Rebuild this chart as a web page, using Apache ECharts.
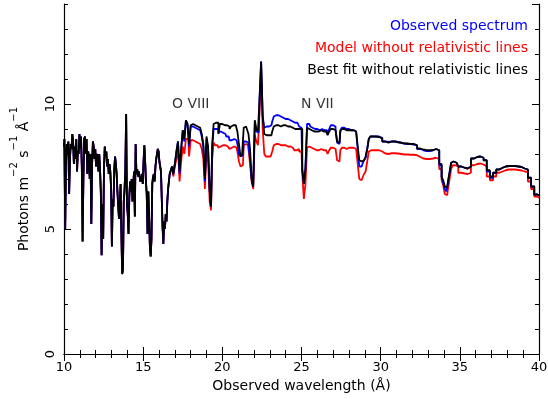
<!DOCTYPE html>
<html>
<head>
<meta charset="utf-8">
<script src="https://cdn.jsdelivr.net/npm/echarts@6/dist/echarts.min.js"></script>
<style>
  html, body { margin: 0; padding: 0; background: #fff; }
  #chart { width: 548px; height: 399px; }
</style>
</head>
<body>
<div id="chart"></div>
<script>
// 10 - 16.8 A : the three curves lie on top of each other
var waveLow = [
  10.00,10.05,10.10,10.15,10.20,10.25,10.30,10.35,10.40,10.45,10.50,10.55,10.60,10.65,10.70,10.75,10.80,10.85,10.90,10.95,
  11.00,11.05,11.10,11.15,11.20,11.25,11.30,11.35,11.40,11.45,11.50,11.55,11.60,11.65,11.70,11.75,11.80,11.85,11.90,11.95,
  12.00,12.05,12.10,12.15,12.20,12.25,12.30,12.35,12.40,12.45,12.50,12.55,12.60,12.65,12.70,12.75,12.80,12.85,12.90,12.95,
  13.00,13.05,13.10,13.15,13.20,13.25,13.30,13.35,13.40,13.45,13.50,13.55,13.60,13.65,13.70,13.75,13.80,13.85,13.90,13.95,
  14.00,14.05,14.10,14.15,14.20,14.25,14.30,14.35,14.40,14.45,14.50,14.55,14.60,14.65,14.70,14.75,14.80,14.85,14.90,14.95,
  15.00,15.05,15.10,15.15,15.20,15.25,15.30,15.35,15.40,15.45,15.50,15.55,15.60,15.65,15.70,15.75,15.80,15.85,15.90,15.95,
  16.00,16.05,16.10,16.15,16.20,16.25,16.30,16.35,16.40,16.45,16.50,16.55,16.60,16.65,16.70,16.75,16.80
];
var fluxLow = [
  8.3,8.6,5.0,7.6,8.4,8.0,8.5,6.4,7.8,8.4,8.2,8.8,8.5,7.6,8.3,7.8,8.6,7.3,8.1,8.0,
  8.8,8.2,8.7,7.5,4.5,7.0,8.6,8.7,8.0,8.6,7.2,8.1,7.9,7.0,8.0,5.2,7.6,8.5,8.3,7.8,
  8.2,7.5,8.0,7.8,7.3,8.0,7.4,6.5,3.95,6.0,4.6,7.4,8.3,7.9,8.1,7.5,7.8,7.2,7.6,7.3,
  6.6,4.3,6.2,5.9,7.4,7.9,7.6,7.2,6.5,5.9,5.4,6.0,6.8,4.8,3.2,3.4,6.1,6.6,7.4,9.6,
  6.0,5.6,4.8,6.3,6.9,6.5,7.0,6.1,6.8,7.3,5.5,8.4,7.2,7.4,7.1,7.3,7.1,6.9,7.0,7.2,
  6.8,7.7,8.35,7.7,6.9,6.4,4.8,6.5,5.5,4.3,3.9,4.6,6.8,7.1,7.2,6.9,7.5,7.8,8.0,8.2,
  8.1,7.7,7.5,7.3,6.2,5.1,4.4,5.3,5.0,5.6,5.3,6.1,6.6,6.9,7.2,7.3,7.4
];

// 16.85 - 40 A : curves separate
var waveHigh = [
  16.85,16.95,17.05,17.15,17.25,17.35,17.45,17.55,17.65,17.75,17.85,17.95,18.05,18.15,18.25,18.35,18.45,18.55,18.65,18.75,18.85,18.95,19.05,19.15,19.25,19.32,19.4,19.5,19.6,
  19.7,19.8,19.9,20.0,20.1,20.2,20.3,20.4,20.5,20.6,20.7,20.8,20.9,21.0,21.1,21.2,21.3,21.4,21.5,21.6,21.7,21.8,21.9,22.0,22.1,22.2,22.3,22.4,22.5,22.6,
  22.7,22.8,22.9,23.0,23.1,23.2,23.3,23.4,23.5,23.6,23.7,23.8,23.9,24.0,24.1,24.2,24.3,24.4,24.5,24.6,24.7,24.8,24.9,
  25.0,25.1,25.2,25.3,25.4,25.5,25.6,25.7,25.8,25.9,26.0,26.1,26.2,26.3,26.4,26.5,26.6,26.7,26.8,26.9,27.0,27.1,27.2,27.3,27.4,27.5,27.6,27.7,27.8,27.9,
  28.0,28.1,28.2,28.3,28.4,28.5,28.6,28.7,28.8,28.9,29.0,29.1,29.2,29.3,29.4,29.5,
  29.6,29.8,30.0,30.2,30.4,30.6,30.8,31.0,31.2,31.4,31.6,31.8,32.0,32.2,32.4,32.6,32.8,33.0,33.2,33.4,33.6,33.8,
  33.9,34.0,34.1,34.2,34.3,34.4,34.5,
  34.6,34.8,35.0,35.2,35.4,35.6,35.8,36.0,36.2,36.4,36.6,36.8,37.0,37.2,37.4,37.6,37.8,38.0,38.2,38.4,38.6,38.8,39.0,39.2,39.4,39.6,39.8,40.0
];
var obsHigh = [
  7.5,7.2,7.6,8.1,8.5,7.2,8.2,8.95,8.5,9.35,9.2,8.3,9.1,9.1,9.05,9.05,9.0,8.95,9.0,8.7,8.3,6.9,8.6,8.2,6.5,5.9,8.2,9.0,9.0,
  9.0,8.85,8.9,8.85,8.8,8.8,8.7,8.7,8.55,8.55,8.6,8.6,8.55,8.4,8.0,7.9,7.95,8.5,8.5,8.45,8.3,7.8,7.0,6.7,9.2,8.9,8.85,10.2,11.7,9.5,
  9.05,9.1,9.1,9.1,9.15,9.3,9.5,9.55,9.55,9.5,9.5,9.45,9.45,9.4,9.4,9.4,9.35,9.3,9.3,9.25,9.25,9.2,9.1,
  9.05,7.4,6.8,7.5,9.2,9.2,9.1,9.05,9.0,9.0,9.0,8.95,9.0,9.0,8.95,8.95,8.95,8.8,9.0,9.15,9.15,9.1,9.0,8.45,8.4,8.95,9.05,9.05,9.0,9.0,
  9.0,8.95,8.95,8.95,8.9,8.85,8.2,7.5,7.5,7.6,7.75,7.85,8.2,8.6,8.7,8.7,
  8.7,8.7,8.65,8.5,8.48,8.5,8.5,8.48,8.45,8.42,8.4,8.4,8.38,8.35,8.2,8.15,8.12,8.12,8.15,8.2,8.15,7.55,
  7.05,6.85,6.6,6.5,6.85,7.25,7.65,
  7.7,7.65,7.5,7.45,7.42,7.5,7.82,7.88,7.9,7.85,7.75,7.3,7.05,7.25,7.38,7.45,7.5,7.52,7.52,7.52,7.5,7.48,7.42,7.38,7.05,6.7,6.38,6.35
];
var modelHigh = [
  7.5,7.1,7.5,7.8,8.2,6.9,7.7,8.3,8.0,8.6,8.6,7.9,8.55,8.55,8.5,8.5,8.45,8.4,8.45,8.2,7.8,6.6,8.1,7.7,6.1,5.75,7.8,8.45,8.35,
  8.35,8.25,8.3,8.35,8.3,8.35,8.3,8.35,8.2,8.25,8.3,8.3,8.25,8.1,7.7,7.5,7.55,8.35,8.4,8.35,8.2,7.6,6.9,6.6,8.75,8.5,8.35,9.7,11.15,9.0,
  8.0,7.9,7.9,7.9,7.9,8.1,8.35,8.4,8.4,8.35,8.35,8.35,8.4,8.35,8.3,8.3,8.3,8.25,8.2,8.15,8.15,8.2,8.1,
  8.1,7.2,6.2,6.8,8.25,8.3,8.25,8.2,8.2,8.15,8.15,8.15,8.2,8.2,8.15,8.15,8.15,8.0,8.15,8.25,8.25,8.2,8.15,7.75,7.7,8.15,8.25,8.25,8.2,8.2,
  8.25,8.25,8.25,8.25,8.2,8.15,7.6,7.0,6.95,7.05,7.2,7.3,7.7,8.1,8.15,8.15,
  8.15,8.15,8.1,8.02,8.0,8.03,8.03,8.02,8.0,7.98,7.98,7.97,7.97,7.95,7.88,7.82,7.8,7.8,7.82,7.85,7.8,7.4,
  6.95,6.75,6.4,6.35,6.6,7.0,7.4,
  7.55,7.5,7.25,7.22,7.2,7.25,7.55,7.6,7.62,7.58,7.5,7.1,6.95,7.1,7.25,7.3,7.35,7.38,7.38,7.38,7.36,7.34,7.3,7.28,6.9,6.6,6.3,6.25
];
var fitHigh = [
  7.5,7.2,7.6,8.1,8.5,7.3,8.2,8.95,8.6,9.35,9.2,8.4,9.15,9.2,9.15,9.15,9.1,9.05,9.1,8.8,8.4,7.0,8.7,8.3,6.6,5.9,8.4,9.2,9.25,
  9.25,8.8,9.2,9.2,9.15,9.2,9.15,9.1,9.0,9.1,9.15,9.15,9.1,8.9,8.4,7.9,8.0,9.05,9.1,9.0,8.8,8.2,7.0,6.7,9.35,9.0,8.9,10.2,11.7,9.5,
  8.8,8.75,8.75,8.75,8.75,8.9,9.1,9.15,9.15,9.1,9.1,9.15,9.15,9.15,9.1,9.15,9.1,9.05,9.0,9.0,9.0,9.05,9.0,
  9.0,7.35,6.8,7.4,9.05,9.0,8.95,8.95,8.9,8.9,8.9,8.9,8.95,8.95,8.9,8.9,8.9,8.75,8.9,9.0,9.0,8.95,8.9,8.5,8.45,8.9,9.0,9.0,8.95,8.95,
  8.95,8.95,8.95,8.95,8.9,8.85,8.3,7.75,7.7,7.75,7.8,7.9,8.2,8.6,8.7,8.7,
  8.7,8.68,8.62,8.5,8.45,8.5,8.5,8.47,8.45,8.42,8.42,8.4,8.4,8.35,8.22,8.18,8.15,8.15,8.15,8.2,8.15,7.6,
  7.1,6.95,6.7,6.65,6.9,7.25,7.65,
  7.7,7.65,7.5,7.45,7.42,7.5,7.82,7.88,7.9,7.85,7.75,7.35,7.1,7.25,7.38,7.45,7.5,7.52,7.52,7.52,7.5,7.48,7.42,7.38,7.05,6.7,6.38,6.35
];

var seriesNames = ['Observed spectrum', 'Model without relativistic lines', 'Best fit without relativistic lines'];
var seriesColors = ['#0000ff', '#ff0000', '#000000'];

// line identifications
var lineLabels = ['O VIII', 'N VII'];
var lineWave = [18, 26];
var lineFlux = [10, 10];

var xRange = [10, 40];
var yRange = [0, 14];

var FONT = 'DejaVu Sans';

function pairs(w, f) {
  return w.map(function (x, i) { return [x, f[i]]; });
}
var obsData = pairs(waveLow, fluxLow).concat(pairs(waveHigh, obsHigh));
var modelData = pairs(waveLow, fluxLow).concat(pairs(waveHigh, modelHigh));
var fitData = pairs(waveLow, fluxLow).concat(pairs(waveHigh, fitHigh));

var axisLine = { show: true, lineStyle: { color: '#000', width: 1.2 } };

function xAx(pos, labels) {
  return {
    type: 'value', position: pos, min: xRange[0], max: xRange[1], interval: 5,
    axisLine: axisLine,
    axisTick: { inside: true, length: 7, lineStyle: { color: '#000' } },
    minorTick: { show: true, splitNumber: 5, length: 4, lineStyle: { color: '#000' } },
    splitLine: { show: false },
    axisLabel: { show: labels, fontFamily: FONT, fontSize: 13, color: '#000', margin: 7 },
    name: labels ? 'Observed wavelength (Å)' : '',
    nameLocation: 'middle', nameGap: 24,
    nameTextStyle: { fontFamily: FONT, fontSize: 14, color: '#000' }
  };
}
function yAx(pos, step, len, labels) {
  return {
    type: 'value', position: pos, min: yRange[0], max: yRange[1], interval: step,
    axisLine: step === 5 ? axisLine : { show: false },
    axisTick: { inside: true, length: len, lineStyle: { color: '#000' } },
    splitLine: { show: false },
    axisLabel: { show: labels, rotate: 90, showMaxLabel: false, fontFamily: FONT, fontSize: 13, color: '#000', margin: 7 },
    name: labels ? '{t|Photons m}{s|−2}{t| s}{s|−1}{t| Å}{s|−1}' : '',
    nameLocation: 'middle', nameGap: 33,
    nameTextStyle: {
      fontFamily: FONT, color: '#000',
      rich: {
        t: { fontFamily: FONT, fontSize: 14, lineHeight: 22, verticalAlign: 'bottom', color: '#000' },
        s: { fontFamily: FONT, fontSize: 10, lineHeight: 10, verticalAlign: 'top', color: '#000' }
      }
    }
  };
}

function stepLine(name, data, color) {
  return {
    name: name, type: 'line', step: 'middle', data: data,
    xAxisIndex: 0, yAxisIndex: 0,
    showSymbol: false, symbol: 'none', silent: true,
    lineStyle: { color: color, width: 1.8 },
    clip: true, animation: false
  };
}

var chart = echarts.init(document.getElementById('chart'));
chart.setOption({
  backgroundColor: '#fff',
  animation: false,
  grid: { left: 64, right: 9, top: 4, bottom: 45, containLabel: false, outerBoundsMode: 'none' },
  xAxis: [xAx('bottom', true), xAx('top', false)],
  yAxis: [yAx('left', 5, 7, true), yAx('left', 1, 4, false), yAx('right', 5, 7, false), yAx('right', 1, 4, false)],
  graphic: seriesNames.map(function (n, i) {
    return {
      type: 'text', x: 528, y: 26 + 22 * i,
      style: { text: n, fill: seriesColors[i], font: '14px "' + FONT + '"', align: 'right', verticalAlign: 'middle' }
    };
  }),
  series: [
    stepLine(seriesNames[1], modelData, seriesColors[1]),
    stepLine(seriesNames[0], obsData, seriesColors[0]),
    stepLine(seriesNames[2], fitData, seriesColors[2]),
    {
      type: 'scatter', silent: true, symbolSize: 0,
      data: lineLabels.map(function (l, i) { return { name: l, value: [lineWave[i], lineFlux[i]] }; }),
      label: { show: true, position: 'inside', formatter: '{b}', fontFamily: FONT, fontSize: 14, color: '#000' }
    }
  ]
});
</script>
</body>
</html>
